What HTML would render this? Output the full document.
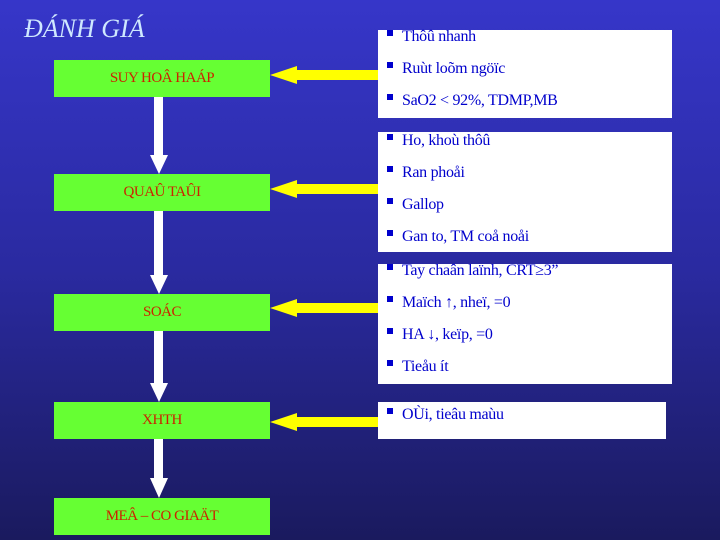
<!DOCTYPE html>
<html><head><meta charset="utf-8"><style>
body{margin:0;width:720px;height:540px;overflow:hidden;background:linear-gradient(#3636c9,#2a2aa0 50%,#1a1a5e);position:relative;font-family:"Liberation Serif",serif}
.g{position:absolute;left:54px;width:216px;height:37px;background:#66ff33;color:#cc2200;font-size:15px;text-align:center;line-height:37px;letter-spacing:-0.5px}
.w{position:absolute;background:#fff;color:#0000cc;font-size:16px;letter-spacing:-0.3px}
.w div{position:absolute;left:24px;white-space:nowrap;line-height:20px}
.w div:before{content:"";position:absolute;left:-15px;top:3px;width:6px;height:6px;background:#0000cc}
.t{position:absolute;left:24px;top:14px;color:#cfe8ff;font-style:italic;font-size:26px}
</style></head><body>
<div class="t">ĐÁNH GIÁ</div>
<svg width="720" height="540" style="position:absolute;left:0;top:0">
<g fill="#fff">
<rect x="154" y="97" width="9" height="60"/><polygon points="150,155 168,155 159,174"/>
<rect x="154" y="211" width="9" height="66"/><polygon points="150,275 168,275 159,294"/>
<rect x="154" y="331" width="9" height="54"/><polygon points="150,383 168,383 159,402"/>
<rect x="154" y="438" width="9" height="42"/><polygon points="150,478 168,478 159,498"/>
</g>
<g fill="#ffff00">
<rect x="296" y="70" width="84" height="10"/><polygon points="270,75 297,66 297,84"/>
<rect x="296" y="184" width="84" height="10"/><polygon points="270,189 297,180 297,198"/>
<rect x="296" y="303" width="84" height="10"/><polygon points="270,308 297,299 297,317"/>
<rect x="296" y="417" width="84" height="10"/><polygon points="270,422 297,413 297,431"/>
</g></svg>
<div class="g" style="top:60px">SUY HOÂ HAÁP</div>
<div class="g" style="top:174px">QUAÛ TAÛI</div>
<div class="g" style="top:294px">SOÁC</div>
<div class="g" style="top:402px">XHTH</div>
<div class="g" style="top:498px">MEÂ – CO GIAÄT</div>
<div class="w" style="left:378px;top:30px;width:294px;height:88px">
<div style="top:-3px">Thôû nhanh</div><div style="top:29px">Ruùt loõm ngöïc</div><div style="top:61px">SaO2 &lt; 92%, TDMP,MB</div></div>
<div class="w" style="left:378px;top:132px;width:294px;height:120px">
<div style="top:-1px">Ho, khoù thôû</div><div style="top:31px">Ran phoåi</div><div style="top:63px">Gallop</div><div style="top:95px">Gan to, TM coå noåi</div></div>
<div class="w" style="left:378px;top:264px;width:294px;height:120px">
<div style="top:-3px">Tay chaân laïnh, CRT≥3”</div><div style="top:29px">Maïch ↑, nheï, =0</div><div style="top:61px">HA ↓, keïp, =0</div><div style="top:93px">Tieåu ít</div></div>
<div class="w" style="left:378px;top:402px;width:288px;height:37px">
<div style="top:3px">OÙi, tieâu maùu</div></div>
</body></html>
